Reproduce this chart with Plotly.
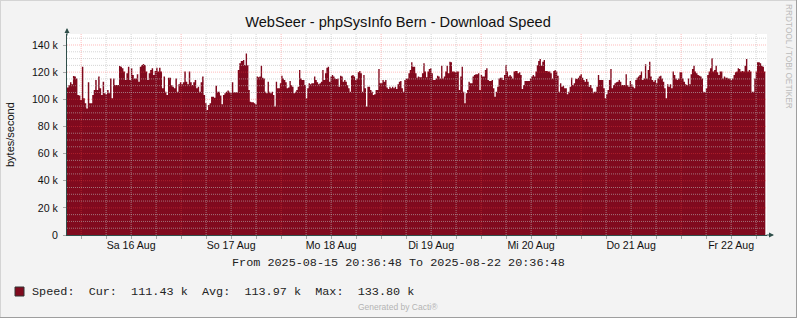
import numpy as np
import pandas as pd
import plotly.graph_objects as go

# ---------------- data (values in k bytes/second) ----------------
START = "2025-08-15 20:36:48"
END = "2025-08-22 20:36:48"

# segment time spans (hours after START) for the four value blocks
SEG_HOURS = [(0.0, 41.7), (41.9, 83.9), (84.2, 126.2), (126.4, 167.6)]

SEG1 = [108.6, 110.5, 112.5, 111.0, 117.2, 116.7, 115.4, 103.2, 102.7, 99.5, 124.0, 100.7, 97.0, 93.3,
        112.5, 97.0, 97.0, 103.2, 106.8, 114.2, 106.8, 116.7, 108.1, 103.2, 113.0, 104.4, 103.7, 106.8,
        104.4, 115.4, 100.7, 115.4, 110.5, 110.5, 110.5, 124.5, 124.0, 122.8, 120.4, 114.2, 119.1, 124.0,
        114.2, 122.8, 117.9, 115.4, 115.4, 118.4, 113.0, 124.0, 125.3, 126.0, 125.3, 120.4, 114.2, 119.1,
        121.6, 122.8, 117.9, 120.8, 123.3, 120.4, 123.3, 120.4, 108.1, 116.7, 105.6, 103.2, 115.9, 115.9,
        110.5, 109.3, 108.1, 115.4, 105.6, 111.0, 112.5, 111.0, 112.5, 120.4, 113.0, 111.0, 120.4, 112.5,
        110.5, 112.5, 114.2, 108.1, 109.3, 105.6, 112.5, 116.7, 103.2, 97.0, 92.1, 95.8, 97.0, 101.9,
        101.9, 101.2, 110.0, 105.6, 105.6, 102.7, 96.3, 103.2, 104.4, 105.6, 106.4, 105.6, 104.4, 112.5,
        105.1, 105.1, 105.1, 121.6, 126.5, 128.2]
SEG2 = [128.2, 128.9, 125.3, 133.8, 125.3, 106.8, 98.2, 97.8, 97.8, 97.0, 96.3, 116.7, 116.2, 116.7,
        124.8, 115.9, 115.4, 105.6, 104.4, 113.0, 105.6, 104.4, 105.6, 103.2, 94.6, 113.0, 108.1, 108.1,
        111.8, 117.4, 115.4, 114.2, 112.5, 108.1, 108.6, 113.5, 110.5, 109.3, 104.4, 105.6, 106.8, 109.3,
        121.6, 115.4, 114.2, 114.2, 110.5, 100.7, 108.1, 111.8, 111.0, 111.8, 111.8, 116.7, 114.2, 112.5,
        111.0, 111.8, 113.0, 121.6, 114.2, 119.1, 123.3, 124.0, 113.0, 116.7, 117.9, 116.7, 115.4, 114.9,
        115.4, 109.3, 117.4, 116.7, 113.0, 114.2, 113.0, 110.5, 108.1, 105.6, 117.4, 117.9, 116.7, 114.2,
        115.4, 119.9, 120.8, 119.1, 105.6, 117.9, 108.1, 94.6, 109.3, 109.3, 106.8, 105.6, 103.2, 103.7,
        106.8, 106.8, 122.3, 111.8, 111.8, 114.2, 113.0, 114.2, 108.6, 107.6, 109.3, 108.1, 109.3, 108.1,
        109.3, 107.6, 111.0, 113.0, 113.5, 108.1, 105.6, 114.2, 115.4, 115.4, 119.1, 121.6, 127.2, 124.0,
        124.0, 119.1, 115.9]
SEG3 = [116.7, 116.2, 116.2, 119.1, 126.5, 120.4, 116.2, 120.4, 122.3, 122.8, 119.1, 114.2, 114.2, 115.4,
        117.4, 116.7, 115.4, 124.8, 115.4, 116.7, 120.4, 124.8, 119.1, 127.7, 127.2, 120.4, 120.4, 119.9,
        120.4, 120.4, 106.8, 116.7, 124.0, 105.6, 97.0, 104.4, 106.8, 113.0, 111.8, 111.8, 116.7, 117.9,
        118.4, 118.4, 119.1, 106.8, 117.9, 116.7, 116.7, 121.6, 122.8, 114.2, 113.5, 113.5, 114.2, 108.1,
        101.9, 105.6, 109.3, 115.4, 115.9, 115.9, 114.2, 117.9, 125.3, 120.4, 116.7, 117.9, 116.7, 115.4,
        120.4, 120.8, 120.8, 119.1, 119.9, 117.9, 107.6, 110.5, 113.5, 113.5, 113.5, 113.5, 115.4, 116.7,
        117.9, 116.7, 120.4, 125.3, 128.2, 129.7, 124.8, 127.7, 128.9, 120.8, 120.8, 120.4, 120.4, 119.1,
        115.4, 120.8, 121.6, 120.4, 117.4, 105.6, 111.8, 109.3, 110.0, 108.1, 108.1, 103.7, 105.6, 109.3,
        115.9, 110.5, 111.8, 115.4, 114.9, 115.9, 117.4, 118.4, 115.9, 114.2, 113.0, 114.9, 113.0, 109.3,
        110.5, 108.1, 104.4]
SEG4 = [105.6, 105.6, 109.3, 117.9, 114.2, 114.2, 114.2, 108.1, 100.7, 103.7, 106.8, 114.2, 122.3, 108.1,
        110.5, 111.8, 112.5, 113.0, 114.2, 113.0, 110.5, 110.5, 110.5, 118.4, 110.5, 109.3, 113.5, 111.0,
        109.3, 108.1, 114.2, 115.9, 116.7, 117.9, 120.4, 114.2, 115.4, 125.8, 115.4, 121.6, 127.7, 116.7,
        114.2, 113.0, 114.2, 111.8, 115.4, 116.7, 117.4, 115.4, 113.0, 108.1, 100.7, 111.0, 109.3, 111.0,
        108.1, 120.4, 117.9, 115.4, 114.2, 115.4, 119.9, 119.9, 115.4, 113.0, 111.0, 110.5, 115.4, 111.0,
        118.4, 122.3, 124.8, 120.4, 119.1, 117.9, 117.4, 116.7, 115.4, 105.6, 105.1, 108.1, 117.9, 120.4,
        122.8, 130.2, 120.4, 121.6, 124.8, 119.9, 117.9, 120.4, 120.4, 115.4, 116.7, 115.9, 115.9, 115.4,
        115.4, 114.2, 115.4, 117.9, 119.9, 120.4, 122.8, 122.3, 120.4, 120.8, 120.4, 124.8, 129.7, 120.4,
        121.6, 120.4, 105.6, 105.6, 115.4, 120.4, 127.2, 127.2, 126.5, 124.8, 124.0, 120.4, 111.43]

Y_TICKS = [0, 20, 40, 60, 80, 100, 120, 140]
Y_TICKTEXT = ["0", "20 k", "40 k", "60 k", "80 k", "100 k", "120 k", "140 k"]
X_TICKDATES = ["2025-08-16 12:00", "2025-08-17 12:00", "2025-08-18 12:00", "2025-08-19 12:00",
               "2025-08-20 12:00", "2025-08-21 12:00", "2025-08-22 12:00"]
X_TICKTEXT = ["Sa 16 Aug", "So 17 Aug", "Mo 18 Aug", "Di 19 Aug", "Mi 20 Aug", "Do 21 Aug", "Fr 22 Aug"]

TITLE = "WebSeer - phpSysInfo Bern - Download Speed"
Y_LABEL = "bytes/second"
PERIOD = "From 2025-08-15 20:36:48 To 2025-08-22 20:36:48"
LEGEND = "Speed:  Cur:  111.43 k  Avg:  113.97 k  Max:  133.80 k"

# ---------------- build series ----------------
start = pd.Timestamp(START)
times, vals = [], []
for (h0, h1), seg in zip(SEG_HOURS, [SEG1, SEG2, SEG3, SEG4]):
    hrs = np.linspace(h0, h1, len(seg))
    times.extend(start + pd.to_timedelta(hrs, unit="h"))
    vals.extend(seg)

# ---------------- geometry / style ----------------
W_IMG, H_IMG = 797, 318
L, R, T, B = 67, 30, 34, 83
PW, PH = W_IMG - L - R, H_IMG - T - B
YMAX = 140 * PH / 190.0

AREA = "#800A1E"
AXIS = "#2F4F4A"
FONT = "Liberation Sans"
MONO = "Liberation Mono"
MAJOR_GRID = "rgba(255,70,70,0.36)"
MINOR_GRID = "rgba(185,185,185,0.6)"


def px(x):
    return (x - L) / PW


def py(y):
    return (T + PH - y) / PH


fig = go.Figure()
fig.add_trace(go.Scatter(x=times, y=vals, mode="lines", line=dict(width=0, shape="hv", color=AREA),
                         fill="tozeroy", fillcolor=AREA, hoverinfo="skip", showlegend=False))

shapes = []
# vertical grid (every 6 h, red at midnight)
for t in pd.date_range("2025-08-16 00:00", "2025-08-22 18:00", freq="6h"):
    major = t.hour == 0
    shapes.append(dict(type="line", xref="x", yref="paper", x0=t, x1=t, y0=0, y1=1, layer="above",
                       line=dict(color=MAJOR_GRID if major else MINOR_GRID, width=1, dash="1px,1px")))
# horizontal grid (every 5 k, red every 20 k)
for v in range(5, 150, 5):
    if v > YMAX:
        break
    major = v % 20 == 0
    shapes.append(dict(type="line", xref="paper", yref="y", x0=0, x1=1, y0=v, y1=v, layer="above",
                       line=dict(color=MAJOR_GRID if major else MINOR_GRID, width=1, dash="1px,1px")))
# legend swatch
shapes.append(dict(type="rect", xref="paper", yref="paper", x0=px(15), x1=px(24), y0=py(296), y1=py(287),
                   fillcolor=AREA, line=dict(color="#333333", width=1), layer="above"))
# outer frame
shapes += [
    dict(type="line", xref="paper", yref="paper", x0=px(0), x1=px(797), y0=py(0.5), y1=py(0.5),
         line=dict(color="#D4D4D4", width=1)),
    dict(type="line", xref="paper", yref="paper", x0=px(0.5), x1=px(0.5), y0=py(0), y1=py(318),
         line=dict(color="#D4D4D4", width=1)),
    dict(type="line", xref="paper", yref="paper", x0=px(796.5), x1=px(796.5), y0=py(0), y1=py(318),
         line=dict(color="#9E9E9E", width=1)),
    dict(type="line", xref="paper", yref="paper", x0=px(0), x1=px(797), y0=py(317.5), y1=py(317.5),
         line=dict(color="#9E9E9E", width=1)),
]

annotations = [
    dict(text=Y_LABEL, x=px(10), y=py(135), xref="paper", yref="paper", showarrow=False, textangle=-90,
         font=dict(family=FONT, size=11, color="#111111"), xanchor="center", yanchor="middle"),
    dict(text=PERIOD.replace(" ", "\u00a0"), x=px(398), y=py(263), xref="paper", yref="paper",
         showarrow=False, font=dict(family=MONO, size=11.8, color="#222222"),
         xanchor="center", yanchor="middle"),
    dict(text=LEGEND.replace(" ", "\u00a0"), x=px(30), y=py(291.5), xref="paper", yref="paper",
         showarrow=False, font=dict(family=MONO, size=11.8, color="#222222"),
         xanchor="left", yanchor="middle"),
    dict(text="Generated by Cacti®", x=px(398), y=py(307), xref="paper", yref="paper", showarrow=False,
         font=dict(family=FONT, size=8.5, color="#B4B4B4"), xanchor="center", yanchor="middle"),
    dict(text="RRDTOOL / TOBI OETIKER", x=px(789), y=py(56), xref="paper", yref="paper", showarrow=False,
         textangle=90, font=dict(family=FONT, size=8.3, color="#BBBBBB"), xanchor="center", yanchor="middle"),
    # axis arrows
    dict(text="", x=px(774), y=0, xref="paper", yref="paper", ax=-9, ay=0, showarrow=True,
         arrowhead=2, arrowsize=1, arrowwidth=1, arrowcolor=AXIS),
    dict(text="", x=0, y=py(28), xref="paper", yref="paper", ax=0, ay=9, showarrow=True,
         arrowhead=2, arrowsize=1, arrowwidth=1, arrowcolor=AXIS),
]

fig.update_layout(
    width=W_IMG, height=H_IMG,
    margin=dict(l=L, r=R, t=T, b=B, pad=0),
    paper_bgcolor="#F3F3F3", plot_bgcolor="#FFFFFF",
    title=dict(text=TITLE, x=398 / W_IMG, y=1 - 22 / H_IMG, xanchor="center", yanchor="middle",
               font=dict(family=FONT, size=14.6, color="#111111")),
    shapes=shapes, annotations=annotations, showlegend=False,
    xaxis=dict(type="date", range=[START, END], tickvals=X_TICKDATES, ticktext=X_TICKTEXT,
               ticks="", showgrid=False, zeroline=False, showline=True, linecolor=AXIS, linewidth=1,
               tickfont=dict(family=FONT, size=10.6, color="#111111"), fixedrange=True,
               minor=dict(ticks="outside", ticklen=3, tickcolor="#AAAAAA", dtick=6 * 3600 * 1000,
                          tick0="2025-08-16 00:00", showgrid=False)),
    yaxis=dict(range=[0, YMAX], tickvals=Y_TICKS, ticktext=Y_TICKTEXT, ticks="outside", ticklen=3,
               tickcolor="#AAAAAA", showgrid=False, zeroline=False, showline=True, linecolor=AXIS,
               linewidth=1, ticklabelstandoff=3, fixedrange=True,
               tickfont=dict(family=FONT, size=10.6, color="#111111")),
)

fig.write_html("out.html")
